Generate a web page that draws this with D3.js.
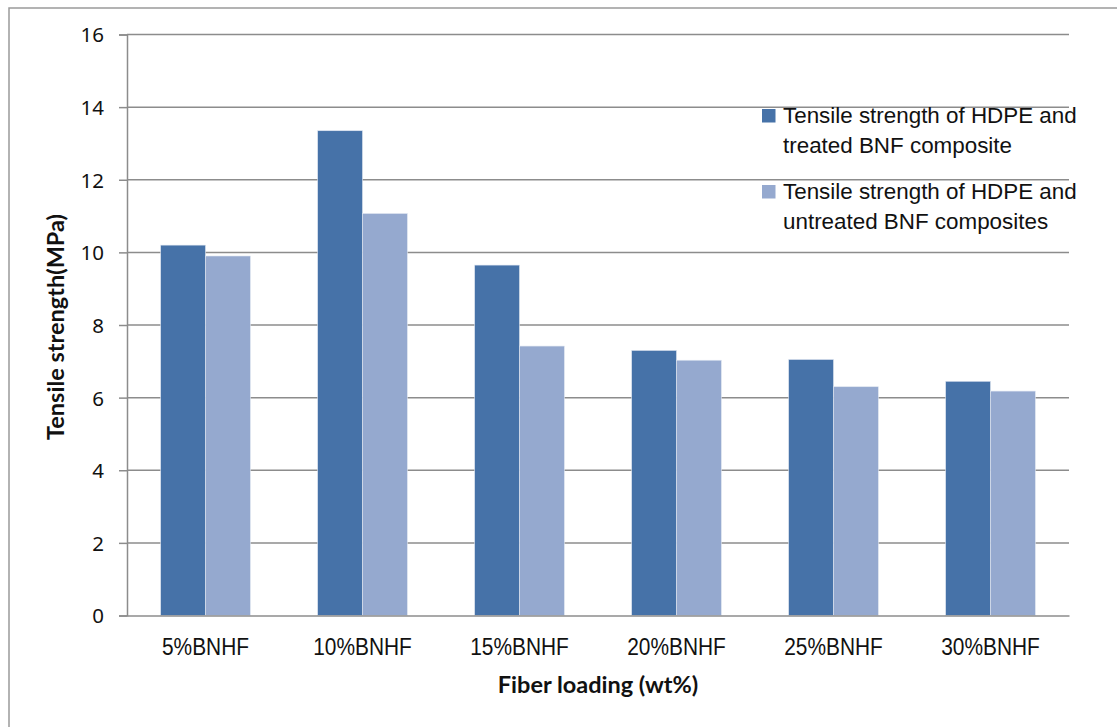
<!DOCTYPE html>
<html>
<head>
<meta charset="utf-8">
<script src="https://cdn.jsdelivr.net/npm/d3@7"></script>
<style>
  html, body { margin: 0; padding: 0; background: #fff; }
  svg { display: block; }
</style>
</head>
<body>
<svg id="chart" width="1117" height="727"></svg>
<script>
// Fiber loading levels and tensile strength (MPa) of the two composite types
const categories = ["5%BNHF", "10%BNHF", "15%BNHF", "20%BNHF", "25%BNHF", "30%BNHF"];
const treated = [10.2, 13.35, 9.65, 7.3, 7.05, 6.45];
const untreated = [9.9, 11.07, 7.42, 7.03, 6.3, 6.18];
const seriesNames = [
  ["Tensile strength of HDPE and", "treated BNF composite"],
  ["Tensile strength of HDPE and", "untreated BNF composites"]
];
const yTicks = [0, 2, 4, 6, 8, 10, 12, 14, 16];

const colors = ["#4672a8", "#95a9cf"];
const gridColor = "#8c8c8c";
const labelFont = "'Liberation Sans', Arial, sans-serif";
const tickFont = "'Noto Sans', 'Open Sans', sans-serif";
const titleFont = "Lato, 'Open Sans', sans-serif";

const svg = d3.select("#chart");

// outer chart frame
svg.append("rect")
  .attr("x", 9).attr("y", 8)
  .attr("width", 1140).attr("height", 760)
  .attr("fill", "none").attr("stroke", "#9a9a9a").attr("stroke-width", 1.5);

const plot = { left: 127, right: 1069, top: 34.5, bottom: 615.5 };

// gap between category groups is 1.5x a single bar width
const x = d3.scaleBand().domain(categories).range([plot.left, plot.right])
  .paddingInner(0.4286).paddingOuter(0.2143);
const y = d3.scaleLinear().domain([0, 16]).range([plot.bottom, plot.top]);

// horizontal gridlines
svg.append("g").selectAll("line").data(yTicks.filter(d => d > 0)).join("line")
  .attr("x1", plot.left).attr("x2", plot.right)
  .attr("y1", d => y(d)).attr("y2", d => y(d))
  .attr("stroke", gridColor).attr("stroke-width", 1.5);

// y axis with ticks to the left
const yAxis = svg.append("g").attr("transform", `translate(${plot.left},0)`)
  .call(d3.axisLeft(y).tickValues(yTicks).tickSize(8).tickPadding(15).tickFormat(d3.format("d")));
yAxis.select(".domain").attr("stroke", gridColor).attr("stroke-width", 1.5);
yAxis.selectAll(".tick line").attr("stroke", gridColor).attr("stroke-width", 1.5);
yAxis.selectAll(".tick text")
  .attr("font-family", tickFont).attr("font-size", 20.5).attr("fill", "#111")
  .attr("dy", "0.36em");

// bars: pair per category
const group = x.bandwidth() / 2;
const barGroups = svg.append("g").selectAll("g").data(categories).join("g")
  .attr("transform", d => `translate(${x(d)},0)`);
[treated, untreated].forEach((vals, s) => {
  barGroups.append("rect")
    .attr("x", s * group)
    .attr("width", group)
    .attr("y", (d, i) => y(vals[i]))
    .attr("height", (d, i) => y(0) - y(vals[i]))
    .attr("fill", colors[s])
    .attr("stroke", "#dfe6f1").attr("stroke-width", 0.6);
});

// x axis baseline and condensed category labels
const xAxis = svg.append("g").attr("transform", `translate(0,${plot.bottom})`)
  .call(d3.axisBottom(x).tickSize(0).tickPadding(22));
xAxis.select(".domain").attr("stroke", gridColor).attr("stroke-width", 1.5);
xAxis.selectAll(".tick text")
  .attr("font-family", labelFont).attr("font-size", 24).attr("fill", "#111")
  .attr("transform", "scale(0.87,1)");

// axis titles
svg.append("text")
  .attr("x", 598).attr("y", 693)
  .attr("text-anchor", "middle")
  .attr("font-family", titleFont).attr("font-weight", "bold")
  .attr("font-size", 23.5).attr("fill", "#111")
  .text("Fiber loading (wt%)");

svg.append("text")
  .attr("transform", "translate(64,327) rotate(-90)")
  .attr("text-anchor", "middle")
  .attr("font-family", titleFont).attr("font-weight", "bold")
  .attr("font-size", 23.5).attr("fill", "#111")
  .text("Tensile strength(MPa)");

// legend
const legend = svg.append("g");
const legendTop = [109, 185];
seriesNames.forEach((lines, s) => {
  legend.append("rect")
    .attr("x", 762).attr("y", legendTop[s])
    .attr("width", 13.5).attr("height", 13.5)
    .attr("fill", colors[s]);
  lines.forEach((t, j) => {
    legend.append("text")
      .attr("x", 783).attr("y", legendTop[s] + 13.5 + j * 30.5)
      .attr("font-family", labelFont).attr("font-size", 22.4).attr("fill", "#111")
      .text(t);
  });
});
</script>
</body>
</html>
